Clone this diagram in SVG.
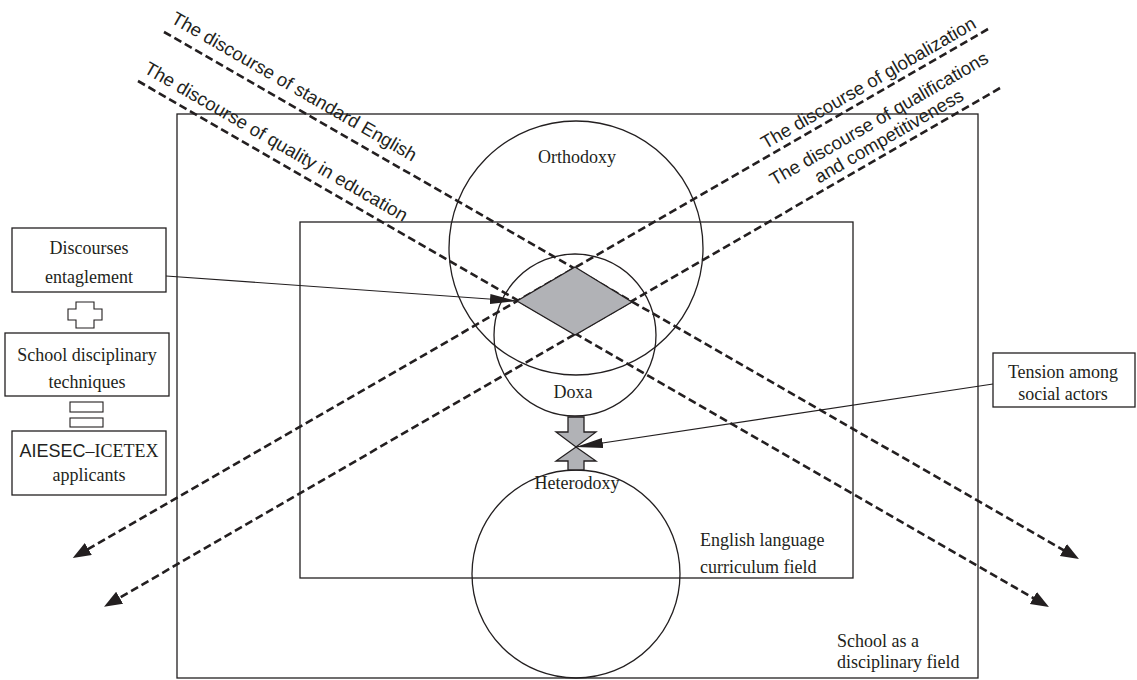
<svg xmlns="http://www.w3.org/2000/svg" width="1137" height="680" viewBox="0 0 1137 680">
<style>
.frame{fill:none;stroke:#231f20;stroke-width:1.3}
.circ{fill:none;stroke:#231f20;stroke-width:1.3}
.box{fill:#fff;stroke:#231f20;stroke-width:1.3}
.dash{fill:none;stroke:#231f20;stroke-width:2.6;stroke-dasharray:8 4}
.solid{fill:none;stroke:#231f20;stroke-width:1.1}
.grey{fill:#b1b2b6;stroke:#231f20;stroke-width:1.3}
.white{fill:#fff;stroke:#231f20;stroke-width:1.1}
.serif{font-family:"Liberation Serif","Times New Roman",serif;font-size:18px;fill:#231f20}
.sans{font-family:"Liberation Sans",Arial,sans-serif;font-size:18.5px;fill:#231f20}
</style>
<defs>
<marker id="dhead" markerUnits="userSpaceOnUse" markerWidth="20" markerHeight="16" refX="8" refY="7" orient="auto">
<path d="M0,0 L18,7 L0,14 Z" fill="#231f20"/>
</marker>
<marker id="shead" markerUnits="userSpaceOnUse" markerWidth="30" markerHeight="12" refX="27" refY="5" orient="auto">
<path d="M0,0 L27,5 L0,10 Z" fill="#231f20"/>
</marker>
</defs>
<rect x="0" y="0" width="1137" height="680" fill="#fff"/>

<g id="school-field">
<rect class="frame" x="177" y="114" width="801" height="564"/>
<text class="serif" x="837" y="647">School as a</text>
<text class="serif" x="837" y="668">disciplinary field</text>
</g>

<g id="curriculum-field">
<rect class="frame" x="300" y="222" width="553" height="356"/>
<text class="serif" x="700" y="546">English language</text>
<text class="serif" x="700" y="573">curriculum field</text>
</g>

<g id="orthodoxy">
<circle class="circ" cx="576" cy="248" r="127"/>
<text class="serif" x="577" y="163" text-anchor="middle">Orthodoxy</text>
</g>

<g id="doxa">
<circle class="circ" cx="575" cy="335" r="81"/>
<text class="serif" x="573" y="398" text-anchor="middle">Doxa</text>
</g>

<g id="heterodoxy">
<circle class="circ" cx="576" cy="574" r="104"/>
<text class="serif" x="577" y="489" text-anchor="middle">Heterodoxy</text>
</g>

<g id="connectors">
<line class="dash" x1="164" y1="32" x2="1070.3" y2="554" marker-end="url(#dhead)"/>
<line class="dash" x1="138" y1="81" x2="1040.3" y2="602" marker-end="url(#dhead)"/>
<line class="dash" x1="988" y1="29" x2="81.4" y2="553" marker-end="url(#dhead)"/>
<line class="dash" x1="1000" y1="88" x2="112.7" y2="601.7" marker-end="url(#dhead)"/>
<line class="solid" x1="166" y1="276" x2="517" y2="301" marker-end="url(#shead)"/>
<line class="solid" x1="993" y1="384" x2="576" y2="447" marker-end="url(#shead)"/>
</g>

<g id="discourse-labels">
<text class="sans" transform="translate(170,22) rotate(30)">The discourse of standard English</text>
<text class="sans" transform="translate(143,72) rotate(30)">The discourse of quality in education</text>
<text class="sans" text-anchor="middle" transform="translate(871.4,88.4) rotate(-30)">The discourse of globalization</text>
<text class="sans" text-anchor="middle" transform="translate(882,124) rotate(-30)">The discourse of qualifications</text>
<text class="sans" text-anchor="middle" transform="translate(892,141.5) rotate(-30)">and competitiveness</text>
</g>

<g id="entanglement-diamond">
<polygon class="grey" points="575,267 632,302 575,335 517,301"/>
</g>

<g id="tension-arrows">
<polygon class="grey" points="568,417 584,417 584,432 596,432 576,447 556,432 568,432"/>
<polygon class="grey" points="576,447 596,461 584,461 584,470 568,470 568,461 556,461"/>
</g>

<g id="discourses-entaglement">
<rect class="box" x="12" y="228" width="154" height="64"/>
<text class="serif" x="89" y="254" text-anchor="middle">Discourses</text>
<text class="serif" x="89" y="283" text-anchor="middle">entaglement</text>
</g>

<g id="plus-sign">
<polygon class="white" points="76,302 94,302 94,309 102,309 102,320 94,320 94,328 76,328 76,320 68,320 68,309 76,309"/>
</g>

<g id="school-techniques">
<rect class="box" x="5" y="333" width="164" height="63"/>
<text class="serif" x="87" y="361" text-anchor="middle">School disciplinary</text>
<text class="serif" x="87" y="388" text-anchor="middle">techniques</text>
</g>

<g id="equals-sign">
<rect class="white" x="70" y="402" width="33" height="10"/>
<rect class="white" x="70" y="418" width="33" height="9"/>
</g>

<g id="aiesec-icetex">
<rect class="box" x="12" y="431" width="154" height="64"/>
<text x="89" y="457" text-anchor="middle"><tspan class="sans" style="font-size:18px">AIESEC</tspan><tspan class="serif">–ICETEX</tspan></text>
<text class="serif" x="89" y="481" text-anchor="middle">applicants</text>
</g>

<g id="tension-box">
<rect class="box" x="993" y="353" width="142" height="54"/>
<text class="serif" x="1063" y="378" text-anchor="middle">Tension among</text>
<text class="serif" x="1063" y="400" text-anchor="middle">social actors</text>
</g>
</svg>
